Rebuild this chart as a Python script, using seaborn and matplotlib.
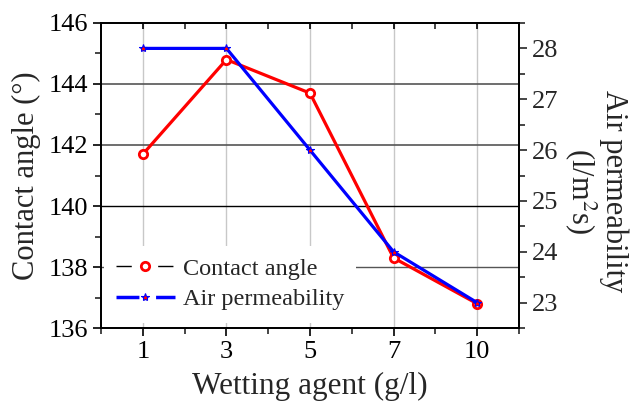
import numpy as np
import pandas as pd
import matplotlib
matplotlib.use('Agg')
import matplotlib.pyplot as plt
from matplotlib.lines import Line2D
from matplotlib.ticker import MultipleLocator, FixedLocator
import seaborn as sns

agent = ['1', '3', '5', '7', '10']
contact_angle = [141.7, 144.8, 143.7, 138.3, 136.8]
air_perm = [28.0, 28.0, 26.0, 24.0, 23.0]

sns.set_style('ticks')
plt.rcParams['font.family'] = ['Liberation Serif', 'DejaVu Serif']
plt.rcParams['mathtext.fontset'] = 'stix'

df = pd.DataFrame({'agent': agent, 'angle': contact_angle, 'perm': air_perm})

fig, ax = plt.subplots(figsize=(6.32, 4.03), dpi=100)
fig.subplots_adjust(left=0.16, right=0.821, top=0.943, bottom=0.186)

sns.pointplot(data=df, x='agent', y='angle', order=agent, ax=ax, color='red',
              markers='o', linestyles='-', linewidth=2.3, markersize=6,
              markerfacecolor='white', markeredgewidth=2, markeredgecolor='red',
              zorder=3)
ax2 = ax.twinx()
sns.pointplot(data=df, x='agent', y='perm', order=agent, ax=ax2, color='blue',
              markers='*', linestyles='-', linewidth=2.3, markersize=6,
              markerfacecolor='red', markeredgecolor='blue', markeredgewidth=0.8,
              zorder=3)

ax.set_xlim(-0.5, 4.5)
ax.set_ylim(136, 146)
ax2.set_ylim(22.5, 28.5)

ax.yaxis.set_major_locator(MultipleLocator(2))
ax.yaxis.set_minor_locator(MultipleLocator(1))
ax2.yaxis.set_major_locator(MultipleLocator(1))
ax2.yaxis.set_minor_locator(MultipleLocator(0.5))
ax.xaxis.set_minor_locator(FixedLocator(np.arange(-0.5, 5, 0.5)))

# grid lines
for i in range(len(agent)):
    ax.axvline(i, color='#c8c8c8', lw=1, zorder=0)
ax.axhline(144, color='#555555', lw=1.2, zorder=0)
ax.axhline(142, color='#555555', lw=1.2, zorder=0)
ax.axhline(140, color='black', lw=1, zorder=0)
ax.axhline(138, color='#555555', lw=1, zorder=0)

ax.tick_params(axis='both', which='major', labelsize=19, length=6, width=1.2,
               direction='out', colors='black')
ax.tick_params(axis='both', which='minor', length=4, width=1.2, direction='out')
ax.tick_params(axis='x', which='both', top=True)
ax2.tick_params(axis='y', which='major', labelsize=19, length=6, width=1.2)
ax2.tick_params(axis='y', which='minor', length=4, width=1.2)
# top ticks point inward
for t in ax.xaxis.get_major_ticks() + ax.xaxis.get_minor_ticks():
    t.tick2line.set_marker(matplotlib.lines.TICKDOWN)
    t.tick2line.set_markersize(4)
for a in (ax, ax2):
    for s in a.spines.values():
        s.set_linewidth(1.3)
        s.set_color('black')

ax.set_xlabel('Wetting agent (g/l)', fontsize=22.5, labelpad=6)
ax.set_ylabel('Contact angle (°)', fontsize=22, labelpad=5)
ax2.set_ylabel('Air permeability\n(l/m$^2$s)', fontsize=22, rotation=270,
               labelpad=50, linespacing=1.0)
ax2.yaxis.label.set_y(0.45)
ax.grid(False)
ax2.grid(False)

handles = [
    Line2D([], [], color='black', lw=1, ls=(0, (11, 19)), marker='o',
           markersize=6, markerfacecolor='white', markeredgecolor='red',
           markeredgewidth=2),
    Line2D([], [], color='blue', lw=2.5, ls=(0, (6.6, 4.8)), marker='*',
           markersize=6, markerfacecolor='red', markeredgecolor='blue',
           markeredgewidth=0.8),
]
leg = ax2.legend(handles, ['Contact angle', 'Air permeability'], loc='lower left',
                 bbox_to_anchor=(0.0, 0.01), frameon=True, fontsize=17.5,
                 handlelength=2.45, handletextpad=0.3, labelspacing=0.35,
                 borderpad=0.5, borderaxespad=0.1)
leg.get_frame().set_edgecolor('none')
leg.get_frame().set_facecolor('white')
leg.get_frame().set_alpha(1)
leg.get_frame().set_boxstyle('square', pad=0)

fig.savefig('out.png', dpi=100)
